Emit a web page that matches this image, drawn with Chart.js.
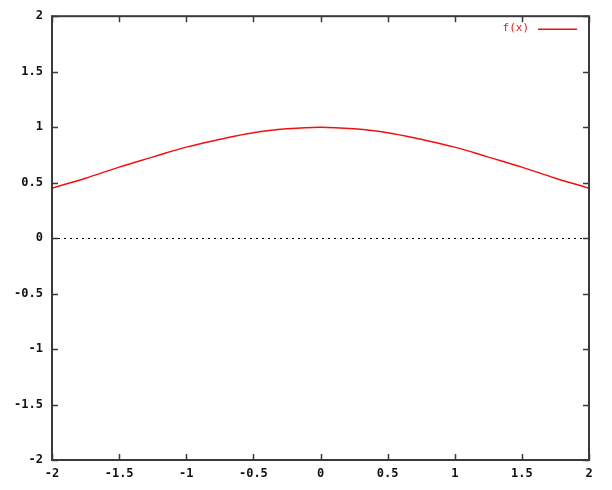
<!DOCTYPE html>
<html>
<head>
<meta charset="utf-8">
<script src="https://cdn.jsdelivr.net/npm/chart.js@4/dist/chart.umd.min.js"></script>
<style>
html,body{margin:0;padding:0;background:#fff;}
#wrap{width:612px;height:490px;}
</style>
</head>
<body>
<div id="wrap"><canvas id="c" width="612" height="490"></canvas></div>
<script>
const xValues = [-2, -1.75, -1.5, -1.25, -1, -0.75, -0.5, -0.25, 0, 0.25, 0.5, 0.75, 1, 1.25, 1.5, 1.75, 2];
const fValues = [0.45, 0.54, 0.64, 0.73, 0.82, 0.89, 0.95, 0.985, 1.0, 0.985, 0.95, 0.89, 0.82, 0.73, 0.64, 0.54, 0.45];
const xTicks = [-2, -1.5, -1, -0.5, 0, 0.5, 1, 1.5, 2];
const yTicks = [-2, -1.5, -1, -0.5, 0, 0.5, 1, 1.5, 2];
const seriesLabel = 'f(x)';

const FONT = '"DejaVu Sans Mono", monospace';
const AXIS = '#3a3a3a';

const gnuplotDeco = {
  id: 'gnuplotDeco',
  afterDatasetsDraw(chart) {
    const {ctx, chartArea: a, scales: {x, y}} = chart;
    ctx.save();
    // zero line dotted
    const y0 = Math.round(y.getPixelForValue(0)) + 0.5;
    ctx.strokeStyle = '#000';
    ctx.lineWidth = 1;
    ctx.setLineDash([2, 4]);
    ctx.beginPath();
    ctx.moveTo(a.left, y0);
    ctx.lineTo(a.right, y0);
    ctx.stroke();
    ctx.setLineDash([]);
    // inward ticks
    ctx.strokeStyle = AXIS;
    ctx.lineWidth = 1.5;
    const L = 6;
    ctx.beginPath();
    xTicks.forEach(v => {
      const px = Math.round(x.getPixelForValue(v)) + 0.5;
      ctx.moveTo(px, a.bottom); ctx.lineTo(px, a.bottom - L);
      ctx.moveTo(px, a.top); ctx.lineTo(px, a.top + L);
    });
    yTicks.forEach(v => {
      const py = Math.round(y.getPixelForValue(v)) + 0.5;
      ctx.moveTo(a.left, py); ctx.lineTo(a.left + L, py);
      ctx.moveTo(a.right, py); ctx.lineTo(a.right - L, py);
    });
    ctx.stroke();
    // border
    ctx.lineWidth = 2;
    ctx.strokeRect(a.left, a.top, a.right - a.left, a.bottom - a.top);
    // legend
    const ds = chart.data.datasets[0];
    ctx.fillStyle = ds.borderColor;
    ctx.font = '11px ' + FONT;
    ctx.textAlign = 'right';
    ctx.textBaseline = 'middle';
    ctx.fillText(ds.label, a.right - 60, a.top + 12);
    ctx.strokeStyle = ds.borderColor;
    ctx.lineWidth = 1.5;
    ctx.beginPath();
    ctx.moveTo(a.right - 51, a.top + 13);
    ctx.lineTo(a.right - 12, a.top + 13);
    ctx.stroke();
    ctx.restore();
  }
};

new Chart(document.getElementById('c'), {
  type: 'line',
  data: {
    datasets: [{
      label: seriesLabel,
      data: xValues.map((v, i) => ({x: v, y: fValues[i]})),
      borderColor: '#f01010',
      borderWidth: 1.5,
      pointRadius: 0,
      tension: 0.4,
      fill: false
    }]
  },
  options: {
    responsive: false,
    animation: false,
    devicePixelRatio: 1,
    layout: {padding: {left: 0, right: 23, top: 14, bottom: 0}},
    plugins: {legend: {display: false}, tooltip: {enabled: false}},
    scales: {
      x: {
        type: 'linear', min: -2, max: 2,
        afterBuildTicks(s) { s.ticks = xTicks.map(v => ({value: v})); },
        afterFit(s) { s.height = 30; },
        grid: {display: false, drawTicks: false},
        border: {display: false},
        ticks: {
          padding: 7, color: '#111', maxRotation: 0, autoSkip: false,
          font: {family: FONT, size: 12, weight: 'bold'},
          callback: v => String(v)
        }
      },
      y: {
        type: 'linear', min: -2, max: 2,
        afterBuildTicks(s) { s.ticks = yTicks.map(v => ({value: v})); },
        afterFit(s) { s.width = 52; },
        grid: {display: false, drawTicks: false},
        border: {display: false},
        ticks: {
          padding: 9, color: '#111', autoSkip: false,
          font: {family: FONT, size: 12, weight: 'bold'},
          callback: v => String(v)
        }
      }
    }
  },
  plugins: [gnuplotDeco]
});
</script>
</body>
</html>
